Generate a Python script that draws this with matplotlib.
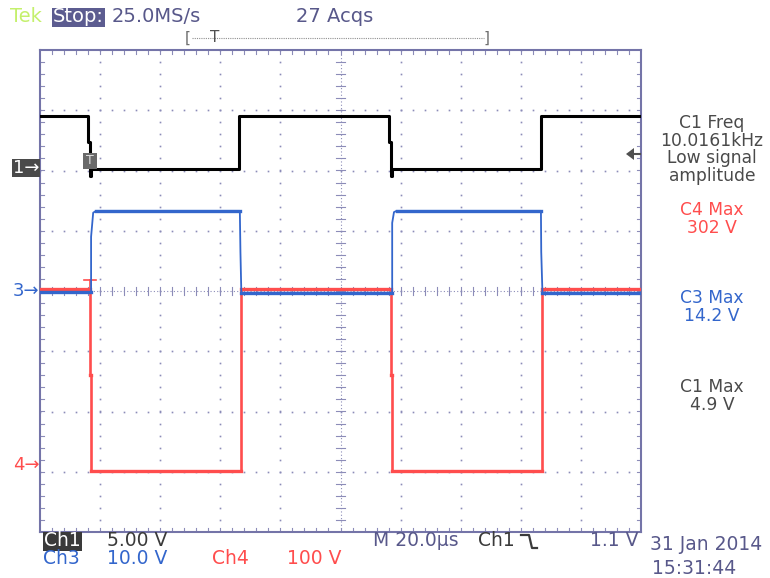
import matplotlib.pyplot as plt
import numpy as np
from matplotlib.patches import Rectangle, Polygon
from matplotlib.lines import Line2D

# scope settings
time_per_div = 20.0      # us/div
ch1_scale, ch3_scale, ch4_scale = 5.0, 10.0, 100.0   # V/div
ch1_offset, ch3_offset, ch4_offset = 2.03, 0.0, -2.89  # div

# Ch1 (black) gate signal, time in us, volts
ch1_t = [0, 16.0, 16.0, 16.7, 16.7, 17.0, 17.0, 66.3, 66.3, 116.0, 116.0, 116.7, 116.7, 117.0, 117.0, 166.7, 166.7, 200]
ch1_v = [4.4, 4.4, 2.2, 2.2, -0.6, -0.6, 0.0, 0.0, 4.4, 4.4, 2.2, 2.2, -0.6, -0.6, 0.0, 0.0, 4.4, 4.4]

# Ch3 (blue)
ch3_t = [0, 17.0, 17.0, 17.7, 18.7, 66.5, 66.7, 67.0, 117.2, 117.2, 117.8, 118.7, 166.7, 166.8, 167.2, 200]
ch3_v = [-0.2, -0.2, 9.0, 13.0, 13.3, 13.3, 6.5, -0.3, -0.3, 11.3, 13.1, 13.3, 13.3, 6.5, -0.3, -0.3]

# Ch4 (red)
ch4_t = [0, 16.7, 16.7, 17.0, 17.0, 67.0, 67.0, 116.7, 116.7, 117.0, 117.0, 167.0, 167.0, 200]
ch4_v = [293, 293, 150, 150, -10, -10, 293, 293, 150, 150, -10, -10, 293, 293]
ch4_peak_t = [14.7, 18.7]
ch4_peak_v = [307, 307]

meas_labels = [("C1 Freq", "10.0161kHz", "Low signal", "amplitude"),
               ("C4 Max", "302 V"), ("C3 Max", "14.2 V"), ("C1 Max", "4.9 V")]

W, H = 770, 578
fig = plt.figure(figsize=(W / 100, H / 100), dpi=100)
ax = fig.add_axes([40 / W, 46 / H, 601 / W, 482 / H])
ax.set_xlim(0, 10)
ax.set_ylim(-4, 4)
ax.set_xticks([])
ax.set_yticks([])
for s in ax.spines.values():
    s.set_color('#7474a8')
    s.set_linewidth(1.5)

gcol = '#8c8cb8'
# graticule dots
for xv in range(1, 10):
    if xv == 5:
        continue
    ys = np.arange(-4, 4.001, 0.2)
    ax.plot(np.full_like(ys, xv), ys, ls='none', marker='s', ms=1.2, mew=0, color=gcol)
for yv in range(-3, 4):
    if yv == 0:
        continue
    xs = np.arange(0, 10.001, 0.2)
    ax.plot(xs, np.full_like(xs, yv), ls='none', marker='s', ms=1.2, mew=0, color=gcol)
# center cross with ticks
ax.plot([5, 5], [-4, 4], color=gcol, lw=0.8, ls=(0, (1, 2)))
ax.plot([0, 10], [0, 0], color=gcol, lw=0.8, ls=(0, (1, 2)))
for v in np.arange(0.2, 10, 0.2):
    ax.plot([v, v], [-0.07, 0.07], color=gcol, lw=0.8)
for v in np.arange(-3.8, 4, 0.2):
    ax.plot([4.93, 5.07], [v, v], color=gcol, lw=0.8)
# border ticks
for v in np.arange(0.2, 10, 0.2):
    ax.plot([v, v], [3.93, 4], color=gcol, lw=0.8)
    ax.plot([v, v], [-4, -3.93], color=gcol, lw=0.8)
for v in np.arange(-3.8, 4, 0.2):
    ax.plot([0, 0.07], [v, v], color=gcol, lw=0.8)
    ax.plot([9.93, 10], [v, v], color=gcol, lw=0.8)


def to_div(t, v, scale, off):
    return np.array(t) / time_per_div, off + np.array(v) / scale


def flats(x, y):
    segs = []
    for i in range(len(x) - 1):
        if y[i] == y[i + 1]:
            segs.append(([x[i], x[i + 1]], [y[i], y[i + 1]]))
    return segs


blue, red = '#3366cc', '#ff4d4d'
x4, y4 = to_div(ch4_t, ch4_v, ch4_scale, ch4_offset)
ax.plot(x4, y4, color=red, lw=1.9, zorder=3)
for sx, sy in flats(x4, y4):
    ax.plot(sx, sy, color=red, lw=2.4, zorder=3)
px, py = to_div(ch4_peak_t, ch4_peak_v, ch4_scale, ch4_offset)
ax.plot(px, py, color=red, lw=1.2, zorder=3)
ax.plot([px.mean(), px.mean()], [py[0], y4[0]], color=red, lw=1.2, zorder=3)

x3, y3 = to_div(ch3_t, ch3_v, ch3_scale, ch3_offset)
ax.plot(x3, y3, color=blue, lw=1.3, zorder=4)
for sx, sy in flats(x3, y3):
    ax.plot(sx, sy, color=blue, lw=2.4, zorder=4)

x1, y1 = to_div(ch1_t, ch1_v, ch1_scale, ch1_offset)
ax.plot(x1, y1, color='black', lw=2.2, zorder=5)


def ft(x, y, s, **kw):
    kw.setdefault('va', 'center')
    kw.setdefault('ha', 'left')
    return fig.text(x / W, 1 - y / H, s, **kw)


def box(x0, y0, x1, y1, color):
    fig.patches.append(Rectangle((x0 / W, 1 - y1 / H), (x1 - x0) / W, (y1 - y0) / H,
                                 transform=fig.transFigure, facecolor=color, edgecolor='none'))


slate = '#58588a'
# header
ft(10, 17, "Tek", color='#c4f06c', fontsize=14)
box(52, 8, 105, 27, '#5c5c90')
ft(53, 17, "Stop:", color='white', fontsize=14)
ft(112, 17, "25.0MS/s", color=slate, fontsize=14)
ft(296, 17, "27 Acqs", color=slate, fontsize=14)
ft(185, 38, "[", color='#707070', fontsize=11)
ft(484, 38, "]", color='#707070', fontsize=11)
fig.lines.append(Line2D([192 / W, 484 / W], [1 - 38 / H] * 2, transform=fig.transFigure,
                        color='#909090', lw=0.8, ls=(0, (1, 1))))
ft(215, 38, "T", color='#505050', fontsize=11, ha='center')

# channel markers
box(12, 159, 40, 177, '#4a4a4a')
ft(13, 168, "1→", color='white', fontsize=13)
ft(13, 291, "3→", color=blue, fontsize=13)
ft(13, 465, "4→", color=red, fontsize=13)
box(83, 153, 97, 169, '#6a6a6a')
ft(90, 161, "T", color='#e0e0e0', fontsize=9, ha='center')
fig.patches.append(Polygon([(626 / W, 1 - 154 / H), (634 / W, 1 - 148 / H), (634 / W, 1 - 160 / H)],
                           closed=True, transform=fig.transFigure, facecolor='#505050', edgecolor='none'))
fig.lines.append(Line2D([632 / W, 640 / W], [1 - 154 / H] * 2, transform=fig.transFigure,
                        color='#505050', lw=1.5))

# measurements
gray = '#4a4a4a'
for i, s in enumerate(meas_labels[0]):
    ft(712, 123 + i * 17.7, s, color=gray, fontsize=12.3, ha='center')
ft(712, 210, meas_labels[1][0], color=red, fontsize=12.3, ha='center')
ft(712, 228, meas_labels[1][1], color=red, fontsize=12.3, ha='center')
ft(712, 298, meas_labels[2][0], color=blue, fontsize=12.3, ha='center')
ft(712, 316, meas_labels[2][1], color=blue, fontsize=12.3, ha='center')
ft(712, 387, meas_labels[3][0], color=gray, fontsize=12.3, ha='center')
ft(712, 405, meas_labels[3][1], color=gray, fontsize=12.3, ha='center')

# footer
box(43, 532, 82, 551, '#3a3a3a')
ft(44, 541, "Ch1", color='white', fontsize=13.5)
ft(107, 541, "5.00 V", color='#3a3a3a', fontsize=13.5)
ft(43, 559, "Ch3", color=blue, fontsize=13.5)
ft(107, 559, "10.0 V", color=blue, fontsize=13.5)
ft(212, 559, "Ch4", color=red, fontsize=13.5)
ft(287, 559, "100 V", color=red, fontsize=13.5)
ft(373, 541, "M 20.0µs", color=slate, fontsize=13.5)
ft(478, 541, "Ch1", color='#3a3a3a', fontsize=13.5)
fig.lines.append(Line2D(np.array([521, 529, 532, 537]) / W, 1 - np.array([535, 535, 548, 548]) / H,
                        transform=fig.transFigure, color='#3a3a3a', lw=1.6))
ft(590, 541, "1.1 V", color=slate, fontsize=13.5)
ft(650, 545, "31 Jan 2014", color=slate, fontsize=13.5)
ft(652, 569, "15:31:44", color=slate, fontsize=13.5)

fig.savefig('out.png', dpi=100)
